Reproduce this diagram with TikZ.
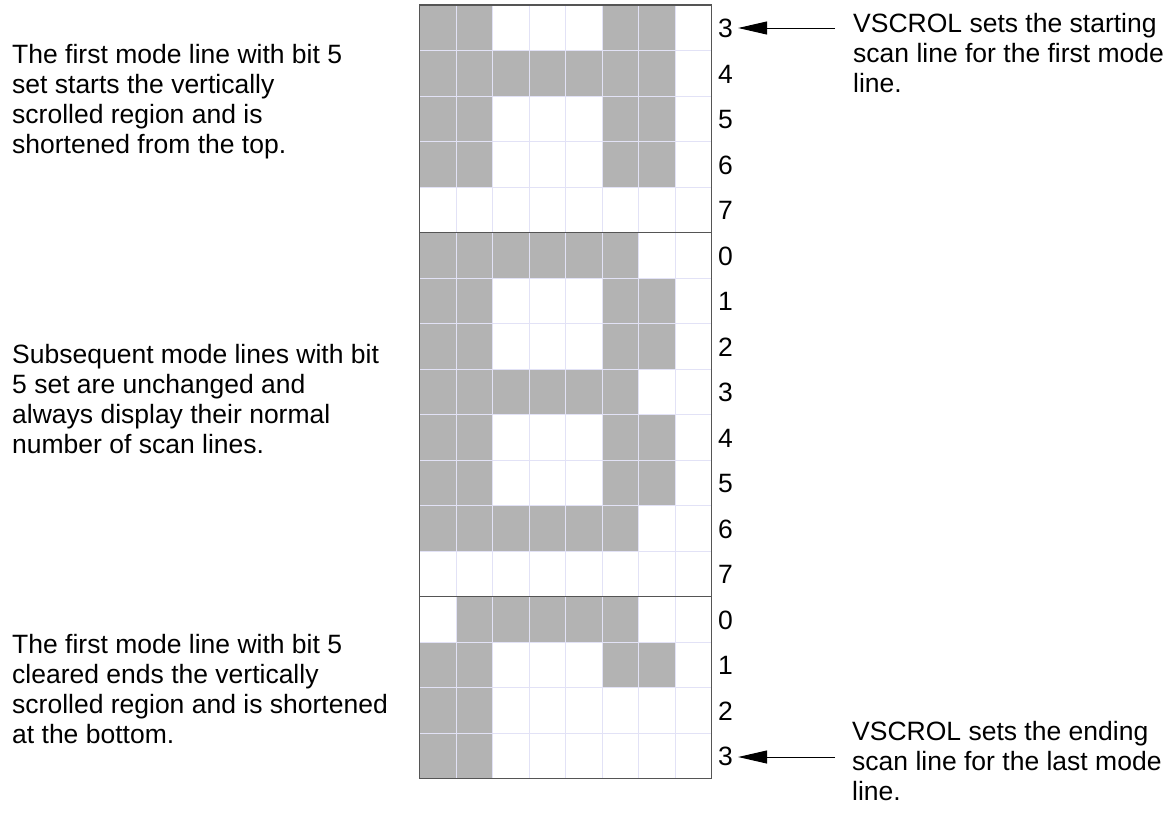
\documentclass[tikz,border=0pt]{standalone}
\usepackage{fontspec}
\setmainfont{Liberation Sans}
\usetikzlibrary{arrows.meta}
\definecolor{cellgray}{RGB}{179,179,179}
\definecolor{gridline}{RGB}{226,226,246}
\definecolor{frame}{RGB}{85,85,85}
\begin{document}
\begin{tikzpicture}[x=1pt,y=-1pt,
  txt/.style={anchor=base west,inner sep=0pt,font=\fontsize{26.5}{30}\selectfont},
  lab/.style={anchor=west,inner sep=0pt,font=\fontsize{26.5}{30}\selectfont},
  arr/.style={line width=1pt,-{Triangle[length=29pt,width=13pt]},shorten >=5pt}]
\useasboundingbox (0,0) rectangle (1173,812);
\def\cw{36.5}\def\rh{45.5}\def\gx{419.5}\def\gy{5}
% cells
\foreach \r/\bits in {
  0/{1,1,0,0,0,1,1,0},1/{1,1,1,1,1,1,1,0},2/{1,1,0,0,0,1,1,0},3/{1,1,0,0,0,1,1,0},
  4/{0,0,0,0,0,0,0,0},
  5/{1,1,1,1,1,1,0,0},6/{1,1,0,0,0,1,1,0},7/{1,1,0,0,0,1,1,0},8/{1,1,1,1,1,1,0,0},
  9/{1,1,0,0,0,1,1,0},10/{1,1,0,0,0,1,1,0},11/{1,1,1,1,1,1,0,0},12/{0,0,0,0,0,0,0,0},
  13/{0,1,1,1,1,1,0,0},14/{1,1,0,0,0,1,1,0},15/{1,1,0,0,0,0,0,0},16/{1,1,0,0,0,0,0,0}}{
  \foreach \b [count=\c from 0] in \bits {
    \ifnum\b=1
      \fill[cellgray] ({\gx+\cw*\c},{\gy+\rh*\r}) rectangle ({\gx+\cw*(\c+1)},{\gy+\rh*(\r+1)});
    \fi
  }
}
% grid
\foreach \c in {1,...,7}
  \draw[gridline,line width=1pt] ({\gx+\cw*\c},\gy) -- ({\gx+\cw*\c},{\gy+\rh*17});
\foreach \r in {1,...,16}
  \draw[gridline,line width=1pt] (\gx,{\gy+\rh*\r}) -- ({\gx+\cw*8},{\gy+\rh*\r});
\draw[frame,line width=1.2pt] (\gx,{\gy+\rh*5}) -- ({\gx+\cw*8},{\gy+\rh*5});
\draw[frame,line width=1.2pt] (\gx,{\gy+\rh*13}) -- ({\gx+\cw*8},{\gy+\rh*13});
\draw[frame,line width=1.2pt] (\gx,\gy) rectangle ({\gx+\cw*8},{\gy+\rh*17});
% scan line numbers
\foreach \d [count=\i from 0] in {3,4,5,6,7,0,1,2,3,4,5,6,7,0,1,2,3}
  \node[lab] (L\i) at (718,{\gy+\rh*\i+\rh/2+1}) {\d};
% left texts
\node[txt] (t1) at (12,63) {\parbox[t]{400pt}{\fontsize{26.5}{30}\selectfont The first mode line with bit 5\\set starts the vertically\\scrolled region and is\\shortened from the top.}};
\node[txt] (t2) at (12,363) {\parbox[t]{400pt}{\fontsize{26.5}{30}\selectfont Subsequent mode lines with bit\\5 set are unchanged and\\always display their normal\\number of scan lines.}};
\node[txt] (t3) at (12,653) {\parbox[t]{400pt}{\fontsize{26.5}{30}\selectfont The first mode line with bit 5\\cleared ends the vertically\\scrolled region and is shortened\\at the bottom.}};
% right texts
\node[txt] (r1) at (853,32) {\parbox[t]{330pt}{\fontsize{26.5}{30}\selectfont VSCROL sets the starting\\scan line for the first mode\\line.}};
\node[txt] (r2) at (852,740) {\parbox[t]{330pt}{\fontsize{26.5}{30}\selectfont VSCROL sets the ending\\scan line for the last mode\\line.}};
% arrows
\coordinate (a1) at (835,28);
\coordinate (a2) at (835,757);
\draw[arr] (a1) -- (a1 -| L0.east);
\draw[arr] (a2) -- (a2 -| L16.east);
\end{tikzpicture}
\end{document}
